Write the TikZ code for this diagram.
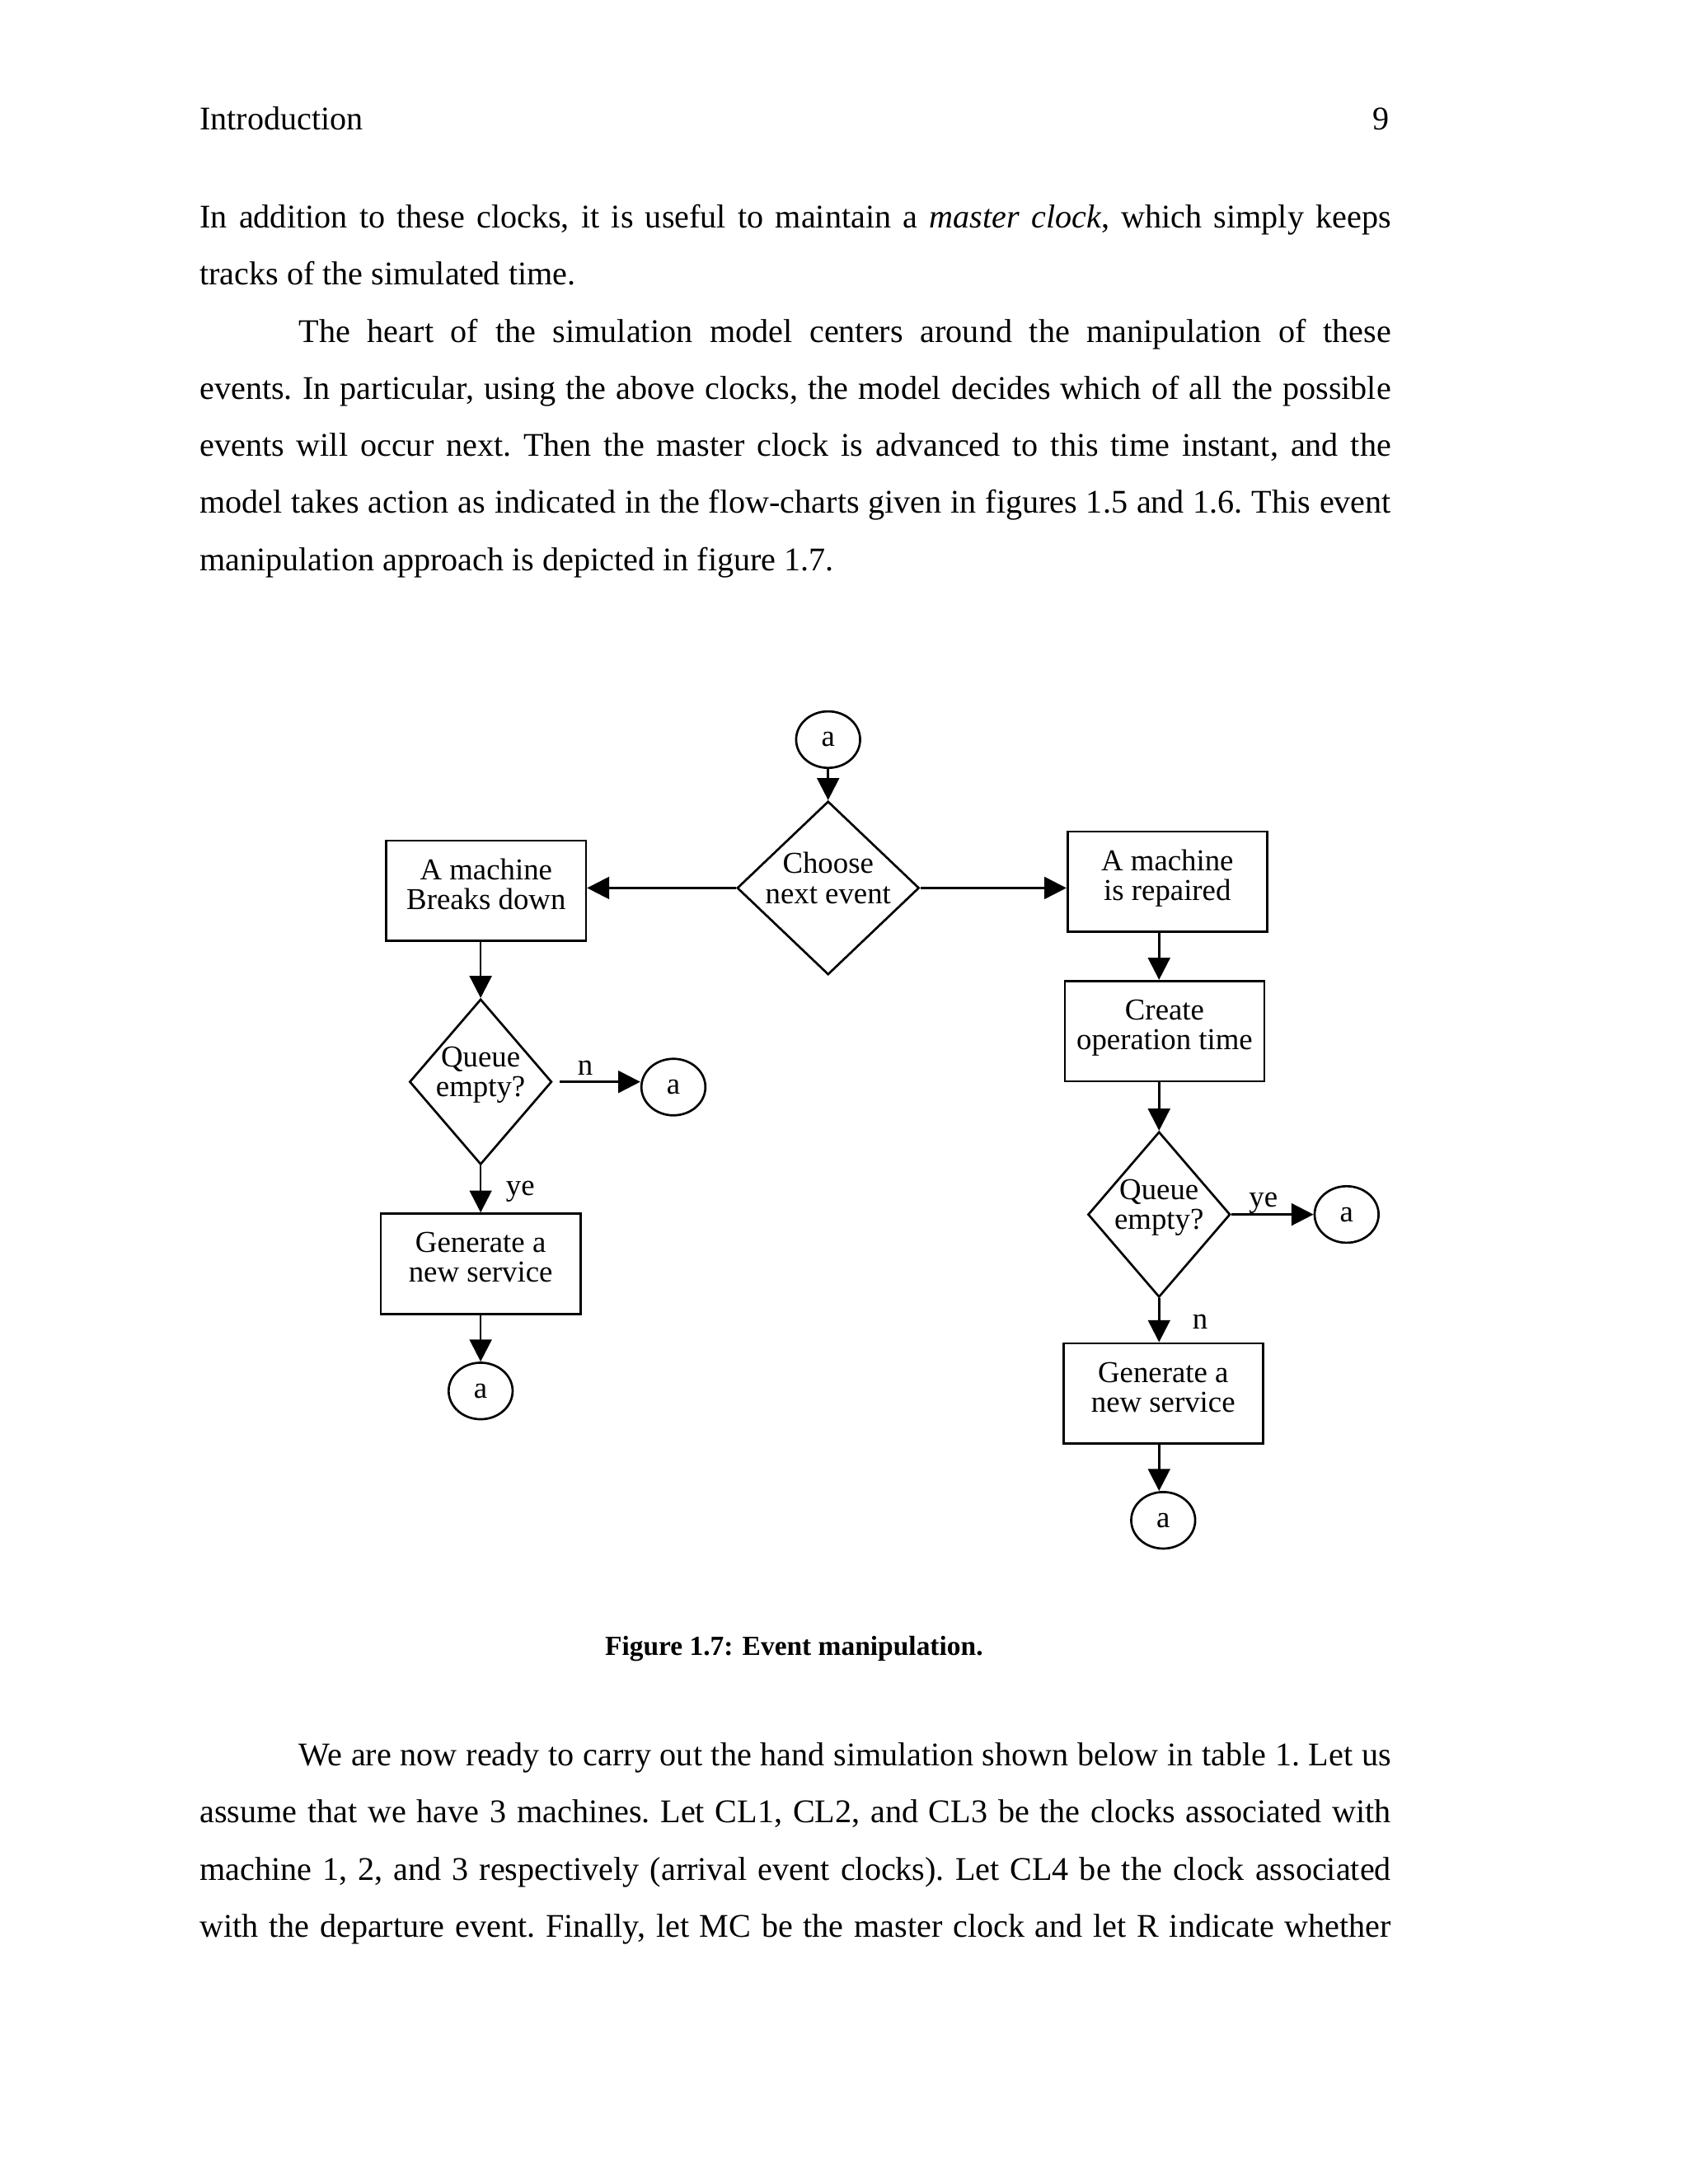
\documentclass[tikz,border=0pt]{standalone}
\usepackage{fontspec}
\setmainfont{Liberation Serif}
\usetikzlibrary{positioning, shapes.geometric, arrows.meta}

\newcommand{\lowstrut}[1]{\rule[-#1]{0pt}{#1}}

\begin{document}
\begin{tikzpicture} [x=0.5051pt, y=-0.5051pt,
            node distance = 2cm,
            on grid,
            auto,
            box/.style = {draw, line width=0.8pt, inner sep=0pt,
                minimum width=72.4pt, minimum height=36.4pt,
                align=center, font=\fontsize{11pt}{10.8pt}\selectfont,
                execute at end node={\lowstrut{4.7pt}}},
            decision/.style = {draw, diamond, line width=0.8pt, inner sep=-10pt,
                minimum width=51.6pt, minimum height=60pt,
                align=center, font=\fontsize{11pt}{10.8pt}\selectfont,
                execute at end node={\lowstrut{7.3pt}}},
            connector/.style = {draw, ellipse, line width=0.8pt, inner sep=0pt,
                minimum width=23.2pt, minimum height=20.5pt,
                font=\fontsize{11pt}{10.8pt}\selectfont},
            flow/.style = {-{Triangle[length=8pt, width=8pt]}, line width=0.8pt},
            tag/.style = {inner sep=0pt, font=\fontsize{11pt}{10.8pt}\selectfont},
            pagetext/.style = {inner sep=0pt, font=\fontsize{12pt}{14pt}\selectfont},
            bodytext/.style = {anchor=base west, inner sep=0pt, text width=432pt,
                align=justify, font=\fontsize{12pt}{20.7pt}\selectfont}]

            \useasboundingbox (0,0) rectangle (1211.6,1568);

            % Running head
            \node (header) [pagetext, anchor=base west] at (143, 93.1) {Introduction};
            \node (pagenum) [pagetext, anchor=base east] at (998, 93.1) {9};

            % Text above the figure
            \node (textabove) [bodytext] at (143, 163.7) {\setlength{\parindent}{36pt}%
                \hyphenpenalty=10000 \tolerance=9999 \frenchspacing
                \noindent In addition to these clocks, it is useful to maintain a \emph{master clock}, which simply keeps\linebreak
                tracks of the simulated time.\par
                The heart of the simulation model centers around the manipulation of these\linebreak
                events. In particular, using the above clocks, the model decides which of all the possible\linebreak
                events will occur next. Then the master clock is advanced to this time instant, and the\linebreak
                model takes action as indicated in the flow-charts given in figures 1.5 and 1.6. This event\linebreak
                manipulation approach is depicted in figure 1.7.\par};

            % Connector a on top
            \node (atop) [connector] at (594.5, 531) {a};

            % Choose next event
            \node (choose) [decision,
                minimum width=66pt,
                minimum height=62.9pt,
                below = 53.8pt of atop] {Choose\\next event};

            % A machine breaks down
            \node (breaks) [box,
                below left = 1pt and 124pt of choose] {A machine\\Breaks down};

            % A machine is repaired
            \node (repaired) [box,
                above right = 2.3pt and 123pt of choose] {A machine\\is repaired};

            % Queue empty? (left)
            \node (qleft) [decision,
                below left = 69.3pt and 2pt of breaks] {Queue\\empty?};
            \node (aleft1) [connector,
                below right = 1.9pt and 69.9pt of qleft] {a};

            % Generate a new service (left)
            \node (genleft) [box,
                below = 66pt of qleft] {Generate a\\new service};
            \node (aleft2) [connector,
                below = 46.1pt of genleft] {a};

            % Create operation time
            \node (create) [box,
                below left = 54.2pt and 1pt of repaired] {Create\\operation time};

            % Queue empty? (right)
            \node (qright) [decision,
                below left = 66.5pt and 2pt of create] {Queue\\empty?};
            \node (aright1) [connector,
                right = 68pt of qright] {a};

            % Generate a new service (right)
            \node (genright) [box,
                below right = 64.9pt and 1.5pt of qright] {Generate a\\new service};
            \node (aright2) [connector,
                below = 46pt of genright] {a};

            % Arrows
            \path [flow]
                (atop) edge (choose)
                (choose.west) edge (choose.west -| breaks.east)
                (choose.east) edge (choose.east -| repaired.west)

                (breaks.south -| qleft.north) edge (qleft.north)
                (qleft.east) edge [shorten <=2.5pt] node [tag, above=1.9pt, pos=0.37] {n} (qleft.east -| aleft1.west)
                (qleft.south) edge node [tag, anchor=west, xshift=8.8pt, yshift=-0.9pt] {ye} (genleft.north -| qleft.south)
                (genleft) edge (aleft2)

                (repaired.south -| qright.north) edge (create.north -| qright.north)
                (create.south -| qright.north) edge (qright.north)
                (qright.east) edge node [tag, above, pos=0.39] {ye} (qright.east -| aright1.west)
                (qright.south) edge node [tag, anchor=west, xshift=11.7pt, yshift=-0.6pt] {n} (genright.north -| qright.south)
                (genright.south -| qright.south) edge (aright2.north -| qright.south);

            % Caption
            \node (caption) [pagetext, anchor=base, font=\fontsize{10pt}{12pt}\selectfont\bfseries] at (570, 1188.5) {Figure 1.7: Event manipulation.};

            % Text below the figure
            \node (textbelow) [bodytext] at (143, 1267.7) {\setlength{\parindent}{36pt}%
                \hyphenpenalty=10000 \tolerance=9999 \parfillskip=0pt \frenchspacing
                \indent We are now ready to carry out the hand simulation shown below in table 1. Let us\linebreak
                assume that we have 3 machines. Let CL1, CL2, and CL3 be the clocks associated with\linebreak
                machine 1, 2, and 3 respectively (arrival event clocks). Let CL4 be the clock associated\linebreak
                with the departure event. Finally, let MC be the master clock and let R indicate whether\par};
        \end{tikzpicture}
\end{document}
